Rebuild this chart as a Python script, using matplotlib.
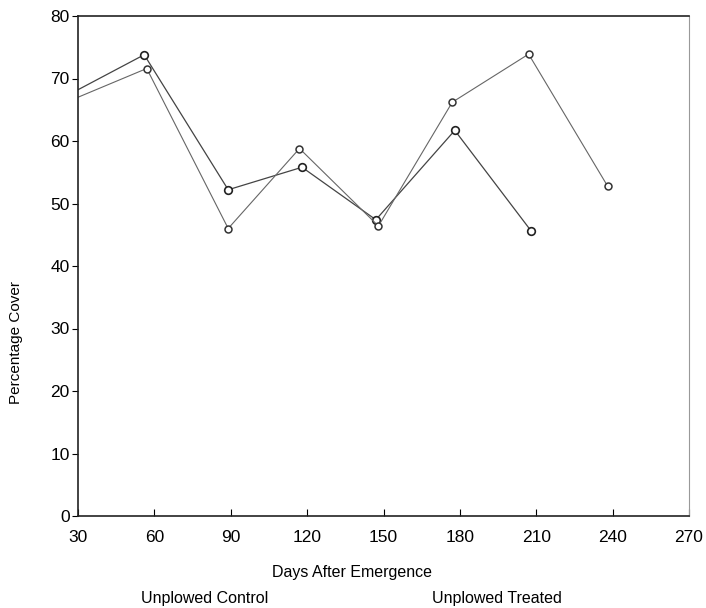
import matplotlib
matplotlib.use("Agg")
import matplotlib.pyplot as plt

plt.rcParams['font.family'] = ['Liberation Sans Narrow', 'Liberation Sans', 'DejaVu Sans']

# sampling days (as plotted) and percentage cover for the two plots
days_control = [30, 56, 89, 118, 147, 178, 208]
cover_control = [68.2, 73.8, 52.2, 55.8, 47.4, 61.7, 45.6]

days_treated = [30, 57, 89, 117, 148, 177, 207, 238]
cover_treated = [67.0, 71.6, 46.0, 58.8, 46.4, 66.2, 73.9, 52.8]

xticks = [30, 60, 90, 120, 150, 180, 210, 240, 270]
yticks = [0, 10, 20, 30, 40, 50, 60, 70, 80]

fig = plt.figure(figsize=(7.06, 6.08), dpi=100)
ax = fig.add_axes([78 / 706, 1 - 516 / 608, 611 / 706, 500 / 608])

# first point sits on the axis line, so no marker there
ax.plot(days_control, cover_control, color='#444444', lw=0.9,
        marker='o', ms=5.5, mfc='white', mec='#222222', mew=1.2,
        markevery=list(range(1, len(days_control))))
ax.plot(days_treated, cover_treated, color='#666666', lw=0.8,
        marker='o', ms=5, mfc='white', mec='#333333', mew=1.1,
        markevery=list(range(1, len(days_treated))))

ax.set_xlim(30, 270)
ax.set_ylim(0, 80)
ax.set_xticks(xticks)
ax.set_yticks(yticks)
ax.tick_params(axis='x', direction='in', length=5, labelsize=12.5, pad=10)
ax.tick_params(axis='y', direction='out', length=4, labelsize=12.5, pad=2)
for side in ['left', 'bottom', 'top']:
    ax.spines[side].set_linewidth(1.2)
    ax.spines[side].set_color('#222222')
ax.spines['right'].set_linewidth(0.8)
ax.spines['right'].set_color('#999999')

fig.text(352 / 706, 1 - 573 / 608, 'Days After Emergence', ha='center', va='center', fontsize=11.5)
fig.text(16 / 706, 1 - 342 / 608, 'Percentage Cover', ha='center', va='center', rotation=90, fontsize=11)
fig.text(205 / 706, 1 - 598 / 608, 'Unplowed Control', ha='center', va='center', fontsize=11.5)
fig.text(497 / 706, 1 - 598 / 608, 'Unplowed Treated', ha='center', va='center', fontsize=11.5)

fig.savefig('out.png', dpi=100)
